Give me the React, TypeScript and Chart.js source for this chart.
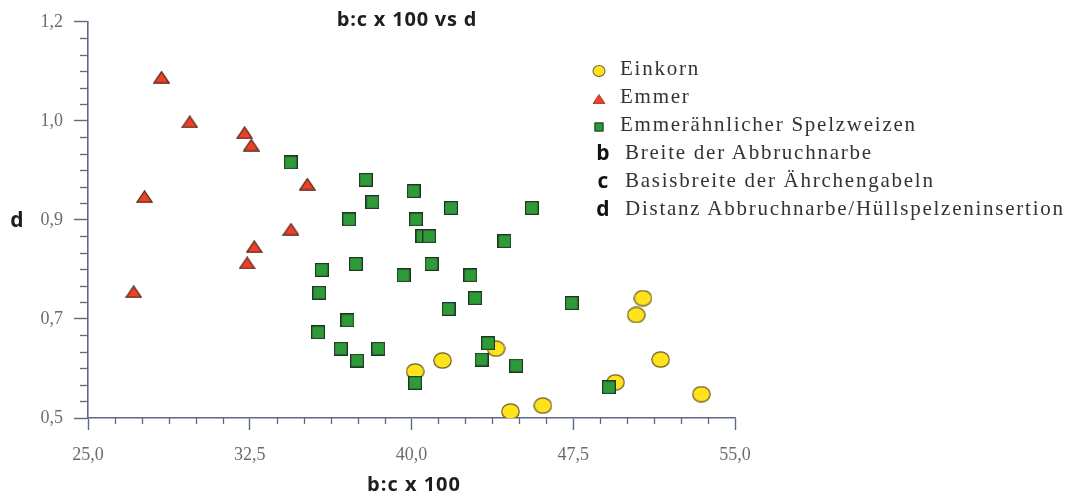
import React, { useEffect, useRef } from "react";
import { Chart, registerables } from "chart.js";

Chart.register(...registerables);

// ---- data (b:c x 100 vs d) ----
const einkornX = [50.73, 50.42, 43.92, 41.44, 51.55, 40.17, 49.46, 53.44, 46.09, 44.59];
const einkornY = [0.742, 0.708, 0.64, 0.616, 0.618, 0.594, 0.572, 0.548, 0.525, 0.513];

const emmerX = [28.41, 29.72, 32.26, 32.57, 35.17, 27.62, 34.41, 32.71, 32.38, 27.12];
const emmerY = [1.188, 1.098, 1.076, 1.051, 0.972, 0.947, 0.881, 0.846, 0.813, 0.755];

const spelzX = [
  34.4, 37.88, 40.1, 38.19, 37.11, 40.21, 41.83, 45.58, 40.51, 40.82,
  44.31, 35.84, 37.42, 39.63, 40.93, 42.73, 35.72, 42.95, 41.72, 47.43,
  35.67, 37.03, 36.72, 37.48, 38.46, 43.55, 43.25, 44.85, 40.17, 49.15,
];
const spelzY = [
  1.016, 0.981, 0.958, 0.936, 0.901, 0.901, 0.924, 0.924, 0.867, 0.867,
  0.857, 0.799, 0.811, 0.788, 0.811, 0.788, 0.753, 0.742, 0.72, 0.732,
  0.673, 0.697, 0.64, 0.616, 0.64, 0.651, 0.618, 0.606, 0.571, 0.562,
];

const xTickValues = [25, 32.5, 40, 47.5, 55];
const xTickLabels = ["25,0", "32,5", "40,0", "47,5", "55,0"];
const yTickValues = [0.5, 0.7, 0.9, 1.1, 1.3];
const yTickLabels = ["0,5", "0,7", "0,9", "1,0", "1,2"];
const xMinorStep = 1.25;
const yMinorStep = 0.2 / 6;

const chartTitle = "b:c x 100 vs d";
const xTitle = "b:c x 100";
const yTitle = "d";

const legendItems = [
  { key: "Einkorn", marker: "circle", text: "Einkorn" },
  { key: "Emmer", marker: "triangle", text: "Emmer" },
  { key: "Spelz", marker: "square", text: "Emmerähnlicher Spelzweizen" },
  { key: "b", marker: "b", text: "Breite der Abbruchnarbe" },
  { key: "c", marker: "c", text: "Basisbreite der Ährchengabeln" },
  { key: "d", marker: "d", text: "Distanz Abbruchnarbe/Hüllspelzeninsertion" },
];

const AXIS = "#5f6884";
const YELLOW = "#ffe31c";
const YELLOW_EDGE = "#6e5d22";
const RED = "#ea4127";
const RED_EDGE = "#55291c";
const GREEN = "#2f9a38";
const GREEN_EDGE = "#1f3326";

function makeEllipse(w: number, h: number) {
  const c = document.createElement("canvas");
  c.width = w;
  c.height = h;
  const ctx = c.getContext("2d")!;
  ctx.beginPath();
  ctx.ellipse(w / 2, h / 2, w / 2 - 0.8, h / 2 - 0.8, 0, 0, Math.PI * 2);
  ctx.fillStyle = YELLOW;
  ctx.fill();
  ctx.lineWidth = 1.2;
  ctx.strokeStyle = YELLOW_EDGE;
  ctx.stroke();
  return c;
}

function makeTriangle(w: number, h: number) {
  const c = document.createElement("canvas");
  c.width = w;
  c.height = h;
  const ctx = c.getContext("2d")!;
  ctx.beginPath();
  ctx.moveTo(w / 2, 0.8);
  ctx.lineTo(w - 0.8, h - 0.8);
  ctx.lineTo(0.8, h - 0.8);
  ctx.closePath();
  ctx.fillStyle = RED;
  ctx.fill();
  ctx.lineWidth = 1.2;
  ctx.strokeStyle = RED_EDGE;
  ctx.stroke();
  return c;
}

function makeSquare(s: number) {
  const c = document.createElement("canvas");
  c.width = s;
  c.height = s;
  const ctx = c.getContext("2d")!;
  ctx.fillStyle = GREEN;
  ctx.fillRect(0.6, 0.6, s - 1.2, s - 1.2);
  ctx.lineWidth = 1.2;
  ctx.strokeStyle = GREEN_EDGE;
  ctx.strokeRect(0.6, 0.6, s - 1.2, s - 1.2);
  return c;
}

const minorTicksPlugin = {
  id: "minorTicks",
  afterDraw(chart: any) {
    const ctx = chart.ctx;
    const xs = chart.scales.x;
    const ys = chart.scales.y;
    ctx.save();
    ctx.strokeStyle = AXIS;
    ctx.lineWidth = 1.3;
    const nx = Math.round((xs.max - xs.min) / xMinorStep);
    for (let i = 0; i <= nx; i++) {
      if (i % 6 === 0) continue;
      const px = Math.round(xs.getPixelForValue(xs.min + i * xMinorStep)) + 0.5;
      ctx.beginPath();
      ctx.moveTo(px, ys.bottom);
      ctx.lineTo(px, ys.bottom + 6);
      ctx.stroke();
    }
    const ny = Math.round((ys.max - ys.min) / yMinorStep);
    for (let i = 0; i <= ny; i++) {
      if (i % 6 === 0) continue;
      const py = Math.round(ys.getPixelForValue(ys.min + i * yMinorStep)) + 0.5;
      ctx.beginPath();
      ctx.moveTo(xs.left - 8, py);
      ctx.lineTo(xs.left, py);
      ctx.stroke();
    }
    ctx.restore();
  },
};

const serif = "'Liberation Serif', 'DejaVu Serif', serif";
const sans = "'Open Sans', 'Liberation Sans', sans-serif";

function LegendMarker({ kind }: { kind: string }) {
  if (kind === "circle") {
    return (
      <div
        style={{
          width: 13,
          height: 12,
          borderRadius: "50%",
          background: YELLOW,
          border: `1px solid ${YELLOW_EDGE}`,
          boxSizing: "border-box",
        }}
      />
    );
  }
  if (kind === "triangle") {
    return (
      <svg width="13" height="10" style={{ display: "block" }}>
        <polygon points="6.5,0.5 12.5,9.5 0.5,9.5" fill={RED} stroke="#a03020" strokeWidth="0.8" />
      </svg>
    );
  }
  if (kind === "square") {
    return (
      <div
        style={{
          width: 9,
          height: 9,
          background: GREEN,
          border: `1px solid ${GREEN_EDGE}`,
          boxSizing: "border-box",
        }}
      />
    );
  }
  return (
    <div style={{ font: `700 21px ${sans}`, color: "#111", lineHeight: "20px" }}>{kind}</div>
  );
}

export default function App() {
  const canvasRef = useRef<HTMLCanvasElement | null>(null);

  useEffect(() => {
    const canvas = canvasRef.current;
    if (!canvas) return;
    const circleImg = makeEllipse(19, 17);
    const triImg = makeTriangle(17, 13);
    const sqImg = makeSquare(14);

    const toPts = (xs: number[], ys: number[]) => xs.map((x, i) => ({ x, y: ys[i] }));

    const chart = new Chart(canvas, {
      type: "scatter",
      data: {
        datasets: [
          {
            label: "Einkorn",
            data: toPts(einkornX, einkornY),
            pointStyle: circleImg as any,
            order: 3,
          },
          {
            label: "Emmer",
            data: toPts(emmerX, emmerY),
            pointStyle: triImg as any,
            order: 2,
          },
          {
            label: "Emmerähnlicher Spelzweizen",
            data: toPts(spelzX, spelzY),
            pointStyle: sqImg as any,
            order: 1,
          },
        ],
      },
      options: {
        animation: false,
        responsive: false,
        layout: { padding: { left: 0, top: 20, right: 344, bottom: 0 } },
        plugins: {
          legend: { display: false },
          tooltip: { enabled: false },
          title: { display: false },
        },
        scales: {
          x: {
            type: "linear",
            min: 25,
            max: 55,
            afterBuildTicks: (scale: any) => {
              scale.ticks = xTickValues.map((v) => ({ value: v }));
            },
            afterFit: (scale: any) => {
              scale.height = 81;
            },
            ticks: {
              callback: (_v: any, i: number) => xTickLabels[i],
              font: { family: serif, size: 18 },
              color: "#6c6c6c",
              padding: 14,
              maxRotation: 0,
            },
            grid: {
              display: true,
              drawOnChartArea: false,
              drawTicks: true,
              tickLength: 12,
              tickColor: AXIS,
              tickWidth: 1.4,
            },
            border: { display: true, color: AXIS, width: 1.6 },
            title: { display: false },
          },
          y: {
            type: "linear",
            min: 0.5,
            max: 1.3,
            afterBuildTicks: (scale: any) => {
              scale.ticks = yTickValues.map((v) => ({ value: v }));
            },
            afterFit: (scale: any) => {
              scale.width = 88;
            },
            ticks: {
              callback: (_v: any, i: number) => yTickLabels[i],
              font: { family: serif, size: 18 },
              color: "#6c6c6c",
              padding: 11,
            },
            grid: {
              display: true,
              drawOnChartArea: false,
              drawTicks: true,
              tickLength: 14,
              tickColor: AXIS,
              tickWidth: 1.4,
            },
            border: { display: true, color: AXIS, width: 1.6 },
          },
        },
      },
      plugins: [minorTicksPlugin],
    });
    return () => chart.destroy();
  }, []);

  const rowY = [69, 97, 125, 153, 181, 209];

  return (
    <div
      style={{
        position: "fixed",
        left: 0,
        top: 0,
        width: 1079,
        height: 499,
        background: "#ffffff",
        overflow: "hidden",
      }}
    >
      <canvas ref={canvasRef} width={1079} height={499} style={{ position: "absolute", left: 0, top: 0 }} />
      <div
        style={{
          position: "absolute",
          left: 407,
          top: 18,
          transform: "translate(-50%, -50%)",
          font: `700 20px ${sans}`,
          letterSpacing: "0.8px",
          color: "#1e1e1e",
          whiteSpace: "nowrap",
        }}
      >
        {chartTitle}
      </div>
      <div
        style={{
          position: "absolute",
          left: 414,
          top: 483,
          transform: "translate(-50%, -50%)",
          font: `700 20px ${sans}`,
          letterSpacing: "1px",
          color: "#1e1e1e",
          whiteSpace: "nowrap",
        }}
      >
        {xTitle}
      </div>
      <div
        style={{
          position: "absolute",
          left: 17,
          top: 219,
          transform: "translate(-50%, -50%)",
          font: `700 21px ${sans}`,
          color: "#1e1e1e",
        }}
      >
        {yTitle}
      </div>
      {legendItems.map((it, i) => {
        const isLetter = it.marker.length === 1;
        return (
          <React.Fragment key={it.key}>
            <div
              style={{
                position: "absolute",
                left: isLetter ? 603 : 599,
                top: rowY[i] + (isLetter ? -1 : 2),
                transform: "translate(-50%, -50%)",
              }}
            >
              <LegendMarker kind={it.marker} />
            </div>
            <div
              style={{
                position: "absolute",
                left: isLetter ? 625 : 620,
                top: rowY[i] - 13,
                height: 26,
                lineHeight: "26px",
                font: `400 21px ${serif}`,
                letterSpacing: "1.75px",
                color: "#333333",
                whiteSpace: "nowrap",
              }}
            >
              {it.text}
            </div>
          </React.Fragment>
        );
      })}
    </div>
  );
}
